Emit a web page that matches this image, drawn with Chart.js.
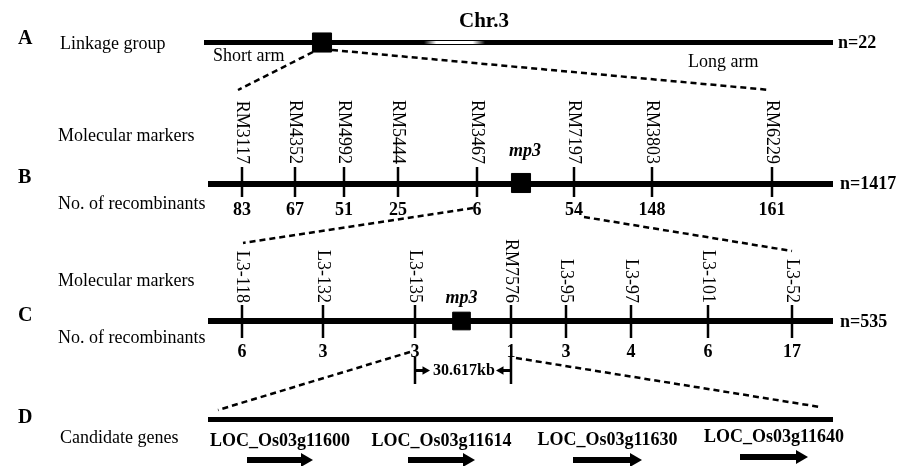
<!DOCTYPE html>
<html>
<head>
<meta charset="utf-8">
<script src="https://cdn.jsdelivr.net/npm/chart.js@4/dist/chart.umd.min.js"></script>
<style>
  html, body { margin: 0; padding: 0; background: #fff; }
  #wrap { width: 900px; height: 466px; }
</style>
</head>
<body>
<div id="wrap"><canvas id="mapa" width="900" height="466"></canvas></div>
<script>
// Dados do mapa (posições ao longo do cromossomo, em unidades do eixo x)
const chrRange = [208, 833];
const chrARange = [204, 833];
const centromere = [424, 485];
const popSizes = ["n=22", "n=1417", "n=535"];

const markersB = ["RM3117", "RM4352", "RM4992", "RM5444", "RM3467", "RM7197", "RM3803", "RM6229"];
const posB = [242, 295, 344, 398, 477, 574, 652, 772];
const recB = [83, 67, 51, 25, 6, 54, 148, 161];

const markersC = ["L3-118", "L3-132", "L3-135", "RM7576", "L3-95", "L3-97", "L3-101", "L3-52"];
const posC = [242, 323, 415, 511, 566, 631, 708, 792];
const recC = [6, 3, 3, 1, 3, 4, 6, 17];

const mp3Pos = [322, 521, 461.5];   // A, B, C
const interval = [415, 511];        // L3-135 .. RM7576
const intervalLabel = "30.617kb";

const genes = ["LOC_Os03g11600", "LOC_Os03g11614", "LOC_Os03g11630", "LOC_Os03g11640"];
const geneStart = [247, 408, 573, 740];
const geneEnd = [313, 475, 642, 808];

// Linhas tracejadas que ligam um nível ao próximo (x de cima, x de baixo)
const zoomTop = [[313, 238], [332, 770], [473, 243], [584, 792], [410, 218], [516, 820]];

// Layout vertical das linhas
const rowY = { A: 42.5, B: 184, C: 321, D: 419.5 };
const SERIF = '"Liberation Serif", "Times New Roman", serif';

function linha(x1, x2, y, largura, extra) {
    return Object.assign({
        type: "scatter",
        showLine: true,
        data: [{ x: x1, y: y }, { x: x2, y: y }],
        borderColor: "#000",
        borderWidth: largura,
        borderCapStyle: "butt",
        pointRadius: 0,
        order: 10
    }, extra || {});
}

function tracejado(x1, y1, x2, y2) {
    return {
        type: "scatter",
        showLine: true,
        data: [{ x: x1, y: y1 }, { x: x2, y: y2 }],
        borderColor: "#000",
        borderWidth: 2.5,
        borderDash: [6, 4],
        borderCapStyle: "butt",
        pointRadius: 0,
        order: 12
    };
}

function seta(x1, x2, y, largura, r, direita) {
    const fim = direita ? x2 - r : x2 + r;
    return {
        type: "scatter",
        showLine: true,
        data: [{ x: x1, y: y }, { x: fim, y: y }],
        borderColor: "#000",
        borderWidth: largura,
        borderCapStyle: "butt",
        pointStyle: "triangle",
        pointRotation: direita ? 90 : -90,
        pointRadius: [0, r],
        pointBackgroundColor: "#000",
        pointBorderWidth: 0,
        order: 3
    };
}

const datasets = [];

// Cromossomo e barras
datasets.push(linha(chrARange[0], chrARange[1], rowY.A, 5));
datasets.push(linha(chrRange[0], chrRange[1], rowY.B, 6));
datasets.push(linha(chrRange[0], chrRange[1], rowY.C, 6));
datasets.push(linha(chrRange[0], chrRange[1], rowY.D, 5));

// Centrômero (região clara)
datasets.push(linha(centromere[0], centromere[1], rowY.A, 3, {
    order: 5,
    borderColor: (c) => {
        const chart = c.chart;
        if (!chart.chartArea) return "#fff";
        const xs = chart.scales.x;
        const a = xs.getPixelForValue(centromere[0]);
        const b = xs.getPixelForValue(centromere[1]);
        const g = chart.ctx.createLinearGradient(a, 0, b, 0);
        g.addColorStop(0, "#000");
        g.addColorStop(0.2, "#fff");
        g.addColorStop(0.8, "#fff");
        g.addColorStop(1, "#000");
        return g;
    }
}));

// Marcadores (traços verticais)
datasets.push({
    type: "scatter",
    data: posB.map(x => ({ x: x, y: 182 })),
    pointStyle: "line",
    pointRotation: 90,
    pointRadius: 15,
    pointBorderWidth: 2.5,
    pointBorderColor: "#000",
    order: 4
});
datasets.push({
    type: "scatter",
    data: posC.map(x => ({ x: x, y: 321.5 })),
    pointStyle: "line",
    pointRotation: 90,
    pointRadius: 16.5,
    pointBorderWidth: 2.5,
    pointBorderColor: "#000",
    order: 4
});

// Posição do gene mp3
datasets.push({
    type: "scatter",
    data: [
        { x: mp3Pos[0], y: rowY.A },
        { x: mp3Pos[1], y: 183 },
        { x: mp3Pos[2], y: 321 }
    ],
    pointStyle: "rect",
    pointRadius: [13.5, 13.5, 12.5],
    pointBackgroundColor: "#000",
    pointBorderColor: "#000",
    pointBorderWidth: 1,
    order: 1
});

// Linhas tracejadas entre os níveis
const yTop = [52, 50, 208, 217, 352, 358];
const yBot = [90, 90, 243, 251, 410, 407];
zoomTop.forEach((p, i) => datasets.push(tracejado(p[0], yTop[i], p[1], yBot[i])));

// Intervalo 30.617kb
datasets.push(linha(interval[0], interval[0], 0, 2.5, {
    data: [{ x: interval[0], y: 357 }, { x: interval[0], y: 384 }], order: 3
}));
datasets.push(linha(interval[1], interval[1], 0, 2.5, {
    data: [{ x: interval[1], y: 357 }, { x: interval[1], y: 384 }], order: 3
}));
datasets.push(seta(interval[0], interval[0] + 15, 370.5, 3, 5, true));
datasets.push(seta(interval[1], interval[1] - 15, 370.5, 3, 5, false));

// Genes candidatos (setas)
const geneY = [460, 460, 460, 457];
genes.forEach((g, i) => datasets.push(seta(geneStart[i], geneEnd[i], geneY[i], 6, 8, true)));

// Plugin para os textos
const textos = {
    id: "textos",
    afterDatasetsDraw(chart) {
        const ctx = chart.ctx;
        const xs = chart.scales.x;
        const ys = chart.scales.y;
        const px = v => xs.getPixelForValue(v);
        const py = v => ys.getPixelForValue(v);

        function escreve(t, x, y, font, align, rot) {
            ctx.save();
            ctx.font = font;
            ctx.fillStyle = "#000";
            ctx.textAlign = align || "left";
            ctx.textBaseline = "middle";
            ctx.translate(px(x), py(y));
            if (rot) ctx.rotate(rot);
            ctx.fillText(t, 0, 0);
            ctx.restore();
        }

        const reg = `18px ${SERIF}`;
        const bold = `bold 18px ${SERIF}`;
        const letra = `bold 20px ${SERIF}`;

        // Painel A
        escreve("A", 18, 39, letra);
        escreve("Linkage group", 60, 44, reg);
        escreve("Chr.3", 484, 22, `bold 21px ${SERIF}`, "center");
        escreve("Short arm", 213, 56, reg);
        escreve("Long arm", 688, 62, reg);
        escreve(popSizes[0], 838, 43, bold);

        // Painel B
        escreve("B", 18, 178, letra);
        escreve("Molecular markers", 58, 136, reg);
        escreve("No. of recombinants", 58, 204, reg);
        markersB.forEach((m, i) => escreve(m, posB[i], 164, reg, "right", Math.PI / 2));
        recB.forEach((n, i) => escreve(String(n), posB[i], 210, bold, "center"));
        escreve("mp3", mp3Pos[1] + 4, 151, `italic bold 18px ${SERIF}`, "center");
        escreve(popSizes[1], 840, 184, bold);

        // Painel C
        escreve("C", 18, 316, letra);
        escreve("Molecular markers", 58, 281, reg);
        escreve("No. of recombinants", 58, 338, reg);
        markersC.forEach((m, i) => escreve(m, posC[i], 303, reg, "right", Math.PI / 2));
        recC.forEach((n, i) => escreve(String(n), posC[i], 352, bold, "center"));
        escreve("mp3", mp3Pos[2], 298, `italic bold 18px ${SERIF}`, "center");
        escreve(popSizes[2], 840, 322, bold);
        escreve(intervalLabel, (interval[0] + interval[1]) / 2 + 1, 371, `bold 16px ${SERIF}`, "center");

        // Painel D
        escreve("D", 18, 418, letra);
        escreve("Candidate genes", 60, 438, reg);
        const geneLabelY = [441, 441, 440, 437];
        genes.forEach((g, i) => {
            const c = (geneStart[i] + geneEnd[i]) / 2;
            escreve(g, c, geneLabelY[i], bold, "center");
        });
    }
};

new Chart(document.getElementById("mapa"), {
    type: "scatter",
    data: { datasets: datasets },
    options: {
        responsive: false,
        animation: false,
        devicePixelRatio: 1,
        layout: { padding: 0, autoPadding: false },
        plugins: { legend: { display: false }, tooltip: { enabled: false } },
        elements: { line: { tension: 0 } },
        datasets: { scatter: { clip: false } },
        scales: {
            x: { type: "linear", min: 0, max: 900, display: false },
            y: { type: "linear", min: 0, max: 466, reverse: true, display: false }
        }
    },
    plugins: [textos]
});
</script>
</body>
</html>
